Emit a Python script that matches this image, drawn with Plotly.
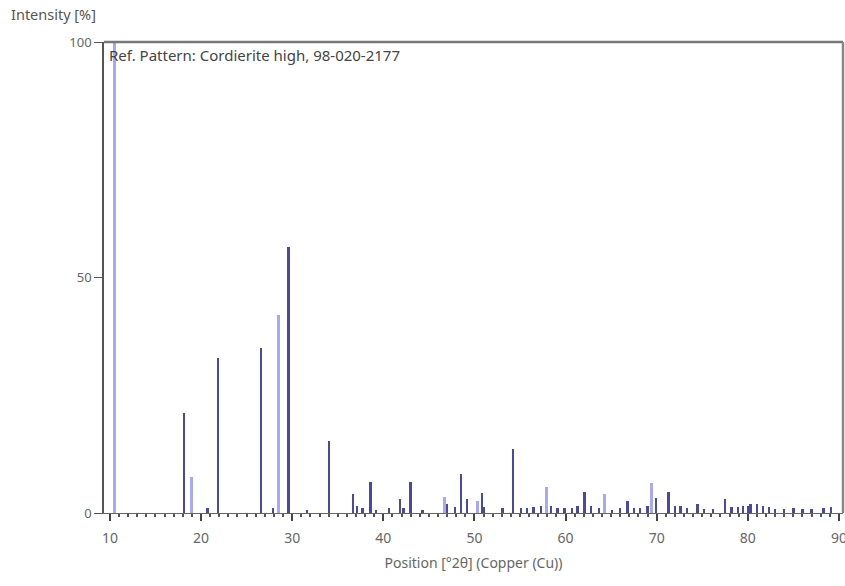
import plotly.graph_objects as go

# Reference pattern lines: position [°2θ], relative intensity [%]
dark_pos = [18.13, 20.7, 21.83, 26.6, 27.9, 29.6, 31.6, 34.07, 36.7, 37.1, 37.7, 38.6,
            39.2, 40.6, 41.8, 42.2, 43.0, 44.3, 47.0, 47.9, 48.5, 49.2, 50.8, 51.0,
            53.1, 54.2, 55.1, 55.8, 56.5, 57.3, 58.4, 59.1, 59.9, 60.7, 61.3, 62.1,
            62.8, 63.7, 65.1, 66.0, 66.8, 67.5, 68.2, 69.0, 69.9, 71.3, 72.0, 72.6,
            73.3, 74.5, 75.2, 76.2, 77.5, 78.2, 78.9, 79.5, 80.0, 80.3, 81.0, 81.7,
            82.3, 83.0, 84.0, 85.0, 86.0, 87.0, 88.3, 89.1]
dark_int = [21.3, 1.0, 32.9, 35.0, 1.0, 56.5, 0.6, 15.3, 4.0, 1.5, 1.0, 6.5,
            0.6, 1.0, 3.0, 1.0, 6.5, 0.6, 2.0, 1.2, 8.3, 3.0, 4.2, 1.2,
            1.0, 13.6, 1.0, 1.0, 1.2, 1.5, 1.5, 1.0, 1.0, 1.0, 1.5, 4.5,
            1.5, 1.0, 0.6, 1.0, 2.6, 1.0, 1.0, 1.5, 3.1, 4.4, 1.5, 1.5,
            1.0, 2.0, 0.8, 0.8, 2.9, 1.2, 1.2, 1.5, 1.5, 2.0, 2.0, 1.5,
            1.2, 0.8, 0.8, 1.0, 0.8, 0.8, 1.0, 1.2]

light_pos = [10.55, 18.98, 28.5, 46.7, 50.3, 57.9, 64.3, 69.4]
light_int = [100.0, 7.7, 42.0, 3.5, 2.5, 5.5, 4.0, 6.3]

x_ticks = [10, 20, 30, 40, 50, 60, 70, 80, 90]
y_ticks = [0, 50, 100]

fig = go.Figure()
fig.add_trace(go.Bar(x=light_pos, y=light_int, width=0.34,
                     marker=dict(color="#a9a9f2", line=dict(width=0)),
                     showlegend=False))
fig.add_trace(go.Bar(x=dark_pos, y=dark_int, width=0.26,
                     marker=dict(color="#4a4a9c", line=dict(width=0)),
                     showlegend=False))

font = "Noto Sans"
fig.update_layout(
    width=845, height=586,
    margin=dict(l=104, r=2, t=42, b=73, autoexpand=False),
    paper_bgcolor="white", plot_bgcolor="white",
    barmode="overlay", bargap=0,
    font=dict(family=font, size=14, color="#666666"),
)
fig.update_xaxes(
    range=[9.35, 90.45], tickvals=x_ticks, ticktext=[str(v) for v in x_ticks],
    ticks="outside", ticklen=7, tickcolor="#444444", tickwidth=1.5,
    minor=dict(dtick=1, tick0=0, ticks="outside", ticklen=3, tickcolor="#555555"),
    showline=True, linecolor="#666666", linewidth=1, mirror=False,
    showgrid=False, zeroline=False, automargin=False,
    ticklabeloverflow="allow", ticklabelstandoff=5,
    tickfont=dict(size=14, color="#666666"),
    title=dict(text="Position [°2θ] (Copper (Cu))", font=dict(size=14, color="#666666"), standoff=12),
)
fig.update_yaxes(
    range=[0, 100], tickvals=y_ticks, ticktext=[str(v) for v in y_ticks],
    ticks="outside", ticklen=8, tickcolor="#555555",
    showline=True, linecolor="#555555", linewidth=1.5, mirror=False,
    showgrid=False, zeroline=False, automargin=False,
    tickfont=dict(size=13, color="#666666"),
)
# top and right frame lines
fig.add_shape(type="line", xref="paper", yref="paper", x0=0, x1=1, y0=1, y1=1,
              line=dict(color="#777777", width=2.5))
fig.add_shape(type="line", xref="paper", yref="paper", x0=1, x1=1, y0=0, y1=1,
              line=dict(color="#888888", width=2.5))

fig.add_annotation(text="Ref. Pattern: Cordierite high, 98-020-2177",
                   xref="paper", yref="paper", x=0.004, y=0.997,
                   xanchor="left", yanchor="top", showarrow=False,
                   font=dict(size=15, color="#444444", family=font))
fig.add_annotation(text="Intensity [%]", xref="paper", yref="paper",
                   x=-0.128, y=1.06, xanchor="left", yanchor="middle",
                   showarrow=False, font=dict(size=14.5, color="#555555", family=font))

fig.write_html("out.html", config={"displayModeBar": False},
               post_script="document.body.style.margin='0';")
